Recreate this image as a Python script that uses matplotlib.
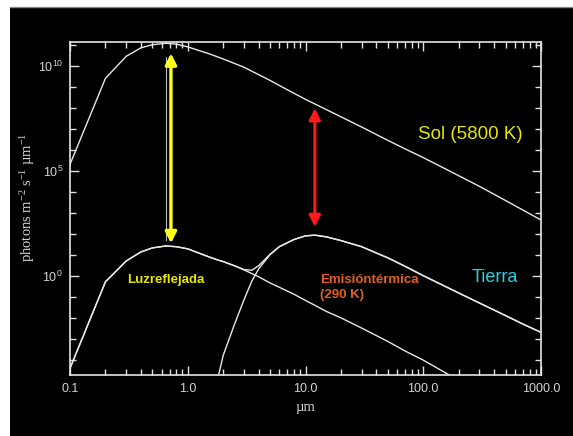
import matplotlib
matplotlib.use('Agg')
import matplotlib.pyplot as plt
import numpy as np
from matplotlib.patches import Rectangle


# Sun blackbody (photon flux), wavelength in um
wavelength_sun = [0.1, 0.2, 0.3, 0.4, 0.5, 0.65, 0.8, 1.0, 1.5, 2.0, 3.0, 5.0, 7.0,
                  10, 20, 30, 50, 70, 100, 150, 200, 300, 500, 700, 1000]
flux_sun = [2.0e5, 2.5e9, 2.8e10, 7.1e10, 1.0e11, 1.17e11, 1.07e11, 7.9e10, 3.8e10,
            2.1e10, 8.5e9, 2.0e9, 7.2e8, 2.5e8, 3.7e7, 1.2e7, 2.8e6, 1.1e6, 4.2e5,
            1.32e5, 5.8e4, 1.8e4, 3.8e3, 1.35e3, 4.5e2]

# Earth: reflected sunlight and thermal emission on the same wavelength grid
wavelength_earth = [0.1, 0.2, 0.3, 0.4, 0.5, 0.65, 0.8, 1.0, 1.5, 1.8, 2.0, 2.5, 3.0,
                    3.5, 4.0, 5.0, 6.0, 8.0, 10, 12, 15, 20, 30, 40, 50, 70, 100, 150,
                    200, 300, 500, 700, 1000]
flux_reflected = [3.9e-5, 0.51, 5.0, 13.5, 21, 26, 24, 19, 8.0, 5.6, 4.7, 2.95, 1.9,
                  1.26, 0.89, 0.45, 0.28, 0.13, 0.066, 0.039, 0.020, 9.8e-3, 3.2e-3,
                  1.4e-3, 7.4e-4, 2.6e-4, 9.5e-5, 2.6e-5, 1.0e-5,
                  np.nan, np.nan, np.nan, np.nan]
flux_thermal = [np.nan, np.nan, np.nan, np.nan, np.nan, np.nan, np.nan, np.nan, np.nan,
                1.3e-5, 1.6e-4, 5.0e-3, 0.07, 0.55, 2.1, 10, 24, 53, 79, 85, 71, 47,
                24, 12, 7.1, 2.8, 1.0, 0.33, 0.15, 0.05, 0.0126, 5.0e-3, 2.0e-3]

# vertical arrows: (wavelength, top, bottom)
arrow_reflected = (0.72, 3.9e10, 35)
arrow_thermal = (12.0, 9.3e7, 214)

x_ticks = [0.1, 1, 10, 100, 1000]
x_ticklabels = ['0.1', '1.0', '10.0', '100.0', '1000.0']
y_ticks = [1e0, 1e5, 1e10]
y_ticklabels = [r'$\mathregular{10^{0}}$', r'$\mathregular{10^{5}}$', r'$\mathregular{10^{10}}$']

flux_total = np.nansum(np.vstack([flux_reflected, flux_thermal]), axis=0)

plt.rcParams['font.family'] = ['Liberation Sans', 'DejaVu Sans']
plt.rcParams['mathtext.default'] = 'regular'

fig = plt.figure(figsize=(5.73, 4.36), dpi=100)
fig.patch.set_facecolor('white')
fig.patches.append(Rectangle((10 / 573, 0), 1, 1 - 7 / 436, transform=fig.transFigure,
                             facecolor='black', edgecolor='none', zorder=-10))
fig.lines.append(plt.Line2D([10 / 573, 1], [1 - 7 / 436, 1 - 7 / 436], transform=fig.transFigure,
                            color='#8a8a8a', lw=1))

ax = fig.add_axes([70 / 573, 1 - 375 / 436, 471 / 573, 333 / 436])
ax.set_facecolor('black')
ax.set_xscale('log')
ax.set_yscale('log')

line_kw = dict(color='#e8e8e8', lw=1.0)
ax.plot(wavelength_sun, flux_sun, **line_kw)
ax.plot(wavelength_earth, flux_reflected, **line_kw)
ax.plot(wavelength_earth, flux_thermal, **line_kw)
ax.plot(wavelength_earth, np.where(flux_total > 0, flux_total, np.nan), **line_kw)

# thin grey guide next to the yellow arrow
ax.plot([0.653, 0.653], [2.7e10, 50], color='#bdbdbd', lw=0.8)

xa, top, bot = arrow_reflected
ax.annotate('', xy=(xa, top), xytext=(xa, bot),
            arrowprops=dict(arrowstyle='<|-|>,head_length=0.55,head_width=0.28',
                            color='#ffff1a', lw=2.4, shrinkA=0, shrinkB=0, mutation_scale=12))
xa, top, bot = arrow_thermal
ax.annotate('', xy=(xa, top), xytext=(xa, bot),
            arrowprops=dict(arrowstyle='<|-|>,head_length=0.55,head_width=0.28',
                            color='#ff1a1a', lw=2.2, shrinkA=0, shrinkB=0, mutation_scale=12))

ax.text(250, 5.6e6, 'Sol (5800 K)', color='#e6e600', fontsize=13.5, ha='center', va='center')
ax.text(406, 0.78, 'Tierra', color='#22d3e0', fontsize=13, ha='center', va='center')
ax.text(0.305, 0.63, 'Luzreflejada', color='#e6e600', fontsize=9.5, fontweight='bold',
        ha='left', va='center')
ax.text(13.3, 0.275, 'Emisióntérmica\n(290 K)', color='#e2601e', fontsize=9.5,
        fontweight='bold', ha='left', va='center', linespacing=1.4)

ax.set_xlim(0.1, 1000)
ax.set_ylim(10 ** -4.73, 10 ** 11.13)

ax.set_xticks(x_ticks)
ax.set_xticklabels(x_ticklabels)
ax.set_xticks([m * 10.0 ** k for k in range(-1, 3) for m in range(2, 10)], minor=True)
ax.set_yticks(y_ticks)
ax.set_yticklabels(y_ticklabels)
ax.set_yticks([10.0 ** k for k in range(-4, 12) if k % 5], minor=True)
ax.xaxis.set_minor_formatter(matplotlib.ticker.NullFormatter())
ax.yaxis.set_minor_formatter(matplotlib.ticker.NullFormatter())

ax.tick_params(which='both', direction='in', top=True, right=True, colors='#e0e0e0',
               labelcolor='#d4d4d4', labelsize=9)
ax.tick_params(which='major', length=6.5, width=1.0)
ax.tick_params(which='minor', length=4, width=1.0)
ax.tick_params(axis='x', pad=6)
ax.tick_params(axis='y', pad=5)
for s in ax.spines.values():
    s.set_color('#e6e6e6')
    s.set_linewidth(1.2)

ax.set_xlabel('µm', color='#d4d4d4', fontsize=10.5, family='Liberation Serif', labelpad=4)
fig.text(0.048, 1 - 197 / 436,
         r'photons m$^{-2}$ s$^{-1}$ µm$^{-1}$', rotation=90, color='#d4d4d4',
         fontsize=10.5, family='Liberation Serif', ha='center', va='center')

fig.savefig('out.png', dpi=100, facecolor=fig.get_facecolor())
